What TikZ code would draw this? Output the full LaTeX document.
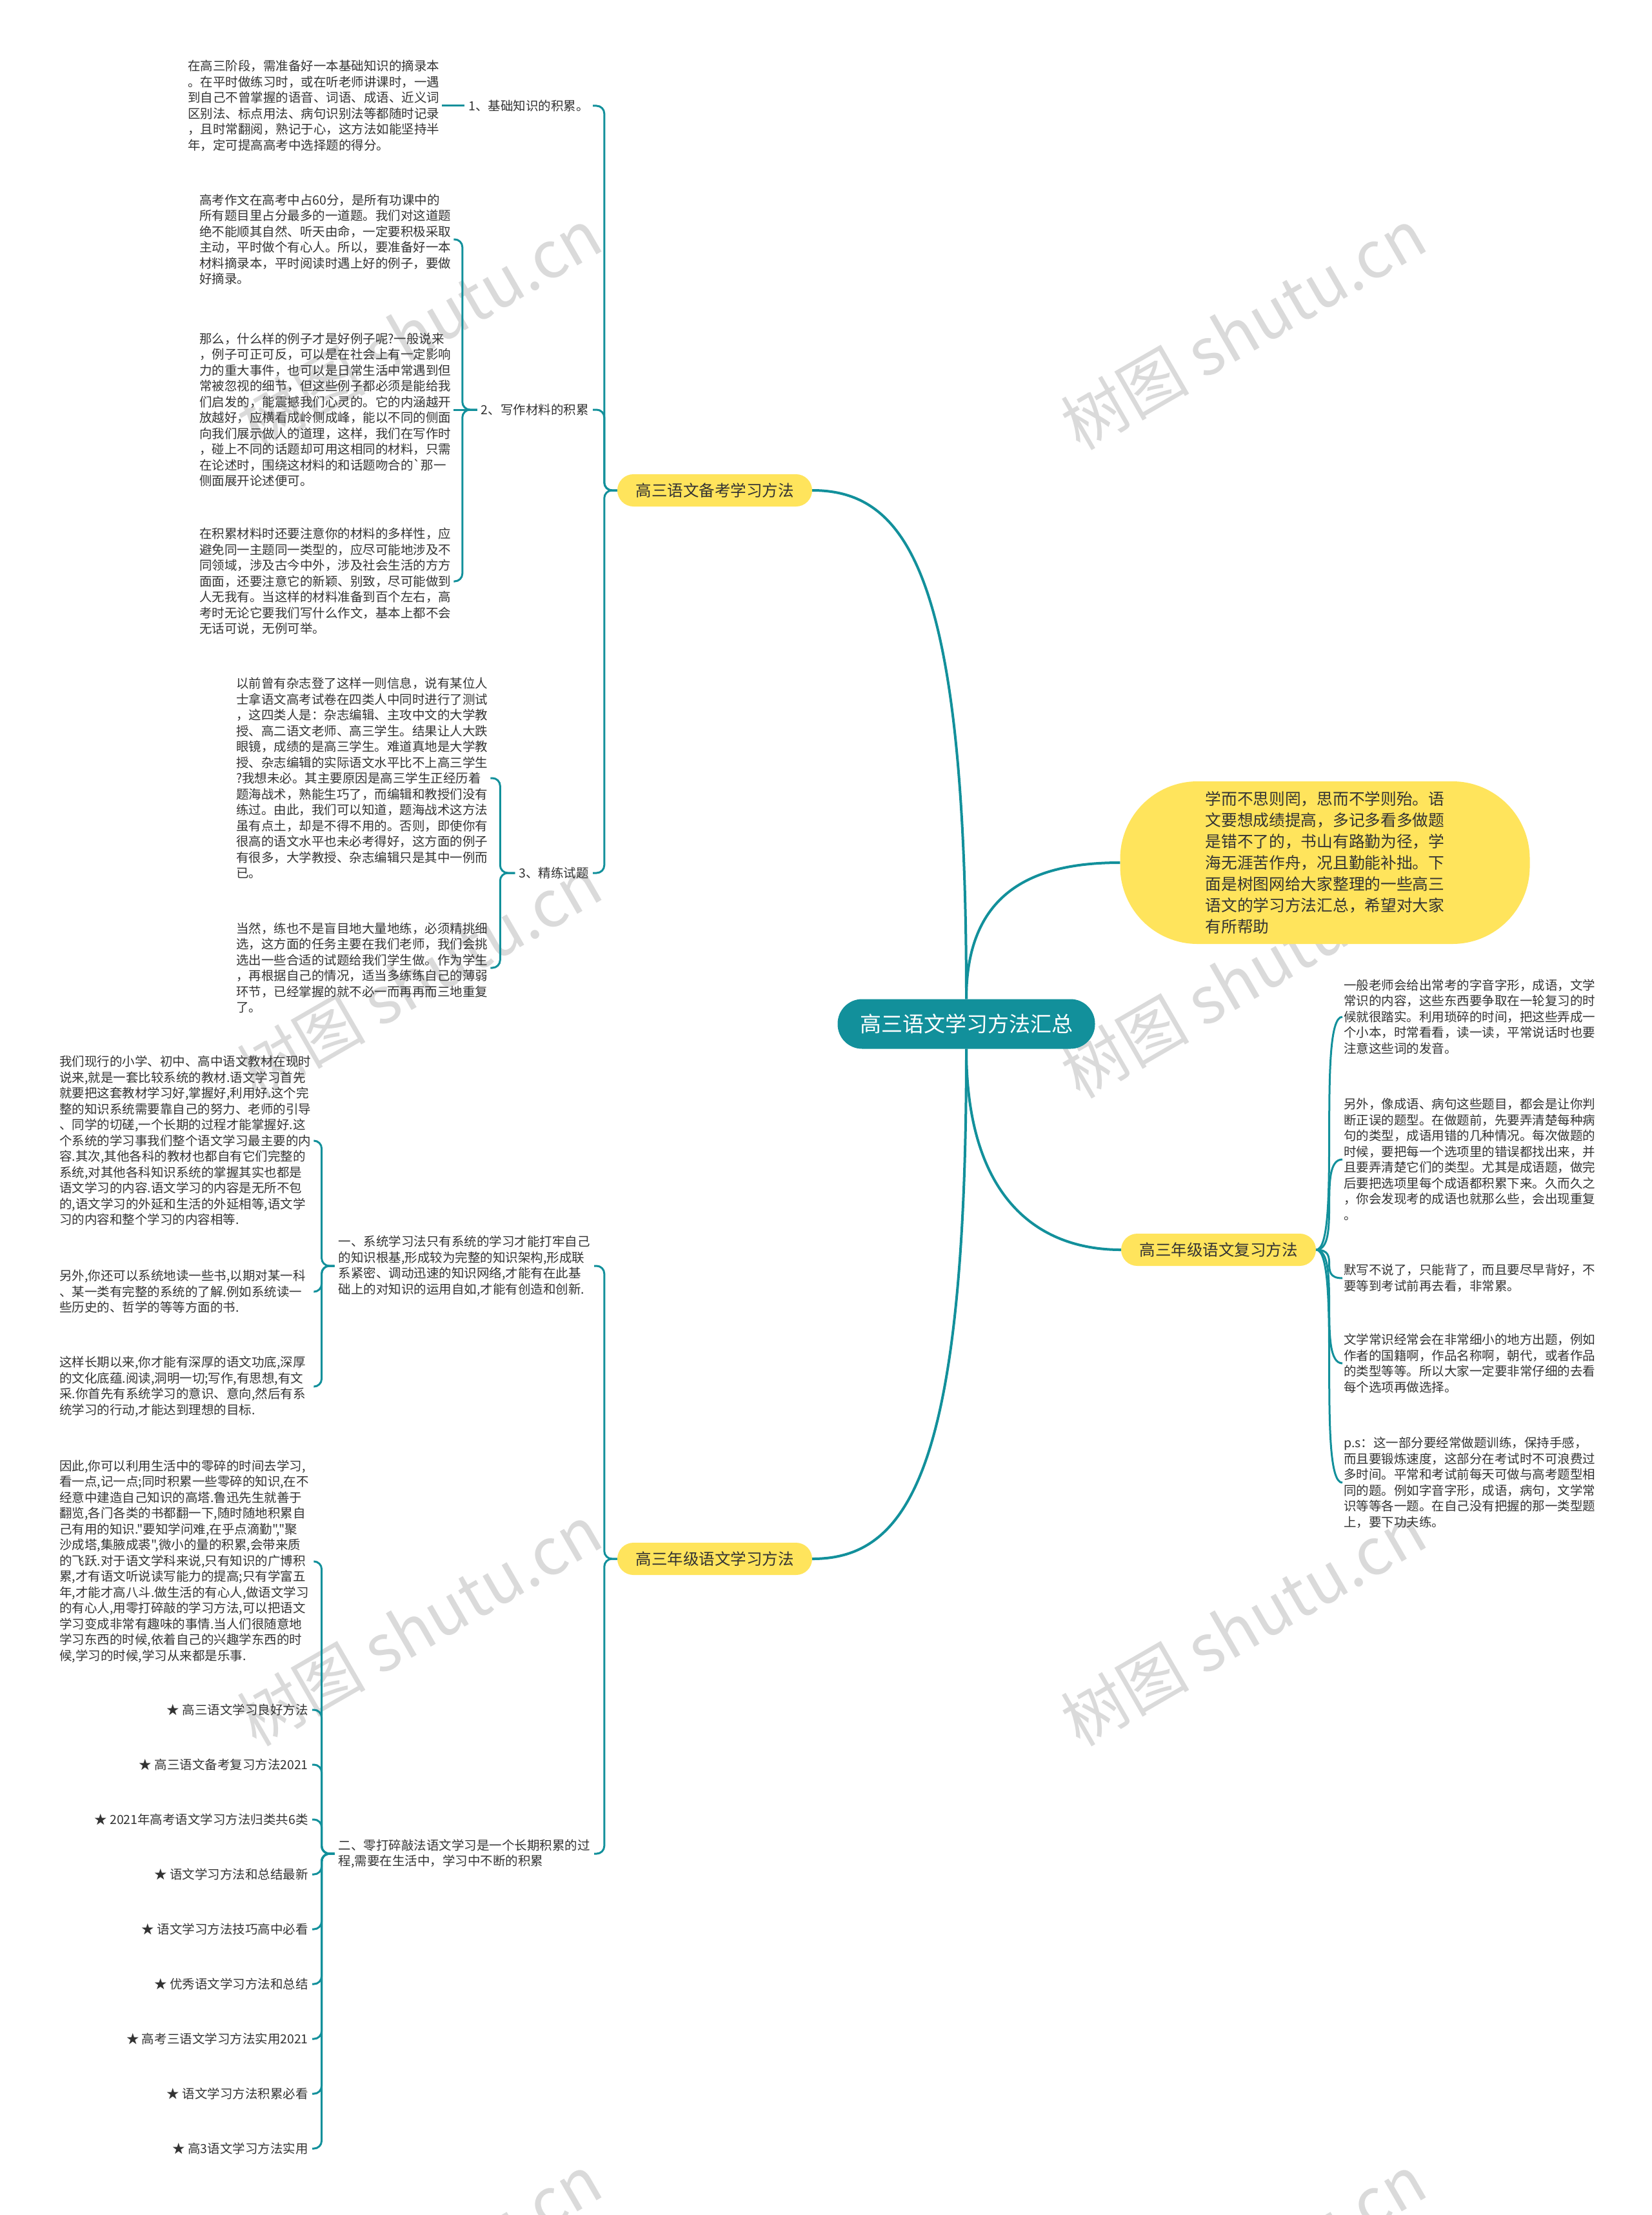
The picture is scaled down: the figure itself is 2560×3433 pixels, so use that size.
\documentclass[tikz,border=0pt]{standalone}
\usepackage{fontspec}
\newfontfamily\cjk{Noto Sans CJK SC}
\definecolor{teal0}{HTML}{12909B}
\definecolor{yel}{HTML}{FFE45C}
\definecolor{ink}{HTML}{333333}
\definecolor{wm}{HTML}{DADADA}

\begin{document}
\begin{tikzpicture}[
  x=1pt, y=-1pt,
  root/.style={fill=teal0, text=white, rounded corners=38pt, minimum width=399pt,
              minimum height=77pt, font=\cjk\fontsize{33}{40}\selectfont},
  topic/.style={fill=yel, text=ink, rounded corners=25pt, minimum width=302pt,
              minimum height=50pt, font=\cjk\fontsize{24.5}{30}\selectfont},
  intro/.style={fill=yel, text=ink, rounded corners=120pt, minimum width=635pt,
              minimum height=252pt, align=left, font=\cjk\fontsize{24.7}{33}\selectfont},
  sub/.style={anchor=east, inner sep=6pt, align=left, text=ink,
              font=\cjk\fontsize{19.5}{24.5}\selectfont},
  note/.style={anchor=west, inner sep=2pt, text width=392pt, align=left, text=ink,
              font=\cjk\fontsize{19.5}{24.5}\selectfont},
  star/.style={anchor=east, inner sep=6pt, text=ink, font=\cjk\fontsize{19.5}{24.5}\selectfont},
  wmark/.style={rotate=30, text=wm, font=\cjk\fontsize{100}{100}\selectfont},
  link/.style={draw=teal0, line width=3pt, rounded corners=12pt},
  main/.style={draw=teal0, line width=4pt},
]
\useasboundingbox (0,0) rectangle (2560,3433);

% === watermarks ===
\foreach \wx in {650,1927}
  \foreach \wy in {510,1515,2519,3526}
    \node[wmark] (wm-\wx-\wy) at (\wx,\wy) {树图 shutu.cn};

% === centre and main topics ===
\node[root] (root) at (1498,1587) {高三语文学习方法汇总};
\node[topic] (prep) at (1108,760) {高三语文备考学习方法};
\node[topic] (study) at (1108,2416) {高三年级语文学习方法};
\node[topic] (review) at (1889,1937) {高三年级语文复习方法};
\node[intro] (intro) at (2054,1337) {学而不思则罔，思而不学则殆。语\\
文要想成绩提高，多记多看多做题\\
是错不了的，书山有路勤为径，学\\
海无涯苦作舟，况且勤能补拙。下\\
面是树图网给大家整理的一些高三\\
语文的学习方法汇总，希望对大家\\
有所帮助};

\draw[main] (root.north) .. controls +(0,-650) and +(150,0) .. (prep.east);
\draw[main] (root.north) .. controls +(0,-170) and +(-130,0) .. (intro.west);
\draw[main] (root.south) .. controls +(0,230) and +(-130,0) .. (review.west);
\draw[main] (root.south) .. controls +(0,650) and +(150,0) .. (study.east);

% === prep branch ===
\node[sub] (basic) at (919,164) {1、基础知识的积累。};
\node[sub] (write) at (919,635) {2、写作材料的积累};
\node[sub] (drill) at (919,1353) {3、精练试题};

\node[note] (basicA) at (289,164) {在高三阶段，需准备好一本基础知识的摘录本\\
。在平时做练习时，或在听老师讲课时，一遇\\
到自己不曾掌握的语音、词语、成语、近义词\\
区别法、标点用法、病句识别法等都随时记录\\
，且时常翻阅，熟记于心，这方法如能坚持半\\
年，定可提高高考中选择题的得分。};

\node[note] (writeA) at (307,371) {高考作文在高考中占60分，是所有功课中的\\
所有题目里占分最多的一道题。我们对这道题\\
绝不能顺其自然、听天由命，一定要积极采取\\
主动，平时做个有心人。所以，要准备好一本\\
材料摘录本，平时阅读时遇上好的例子，要做\\
好摘录。};

\node[note] (writeB) at (307,635) {那么，什么样的例子才是好例子呢?一般说来\\
，例子可正可反，可以是在社会上有一定影响\\
力的重大事件，也可以是日常生活中常遇到但\\
常被忽视的细节，但这些例子都必须是能给我\\
们启发的，能震撼我们心灵的。它的内涵越开\\
放越好，应横看成岭侧成峰，能以不同的侧面\\
向我们展示做人的道理，这样，我们在写作时\\
，碰上不同的话题却可用这相同的材料，只需\\
在论述时，围绕这材料的和话题吻合的\textasciigrave 那一\\
侧面展开论述便可。};

\node[note] (writeC) at (307,901) {在积累材料时还要注意你的材料的多样性，应\\
避免同一主题同一类型的，应尽可能地涉及不\\
同领域，涉及古今中外，涉及社会生活的方方\\
面面，还要注意它的新颖、别致，尽可能做到\\
人无我有。当这样的材料准备到百个左右，高\\
考时无论它要我们写什么作文，基本上都不会\\
无话可说，无例可举。};

\node[note] (drillA) at (364,1206) {以前曾有杂志登了这样一则信息，说有某位人\\
士拿语文高考试卷在四类人中同时进行了测试\\
，这四类人是：杂志编辑、主攻中文的大学教\\
授、高二语文老师、高三学生。结果让人大跌\\
眼镜，成绩的是高三学生。难道真地是大学教\\
授、杂志编辑的实际语文水平比不上高三学生\\
?我想未必。其主要原因是高三学生正经历着\\
题海战术，熟能生巧了，而编辑和教授们没有\\
练过。由此，我们可以知道，题海战术这方法\\
虽有点土，却是不得不用的。否则，即使你有\\
很高的语文水平也未必考得好，这方面的例子\\
有很多，大学教授、杂志编辑只是其中一例而\\
已。};

\node[note] (drillB) at (364,1500) {当然，练也不是盲目地大量地练，必须精挑细\\
选，这方面的任务主要在我们老师，我们会挑\\
选出一些合适的试题给我们学生做。作为学生\\
，再根据自己的情况，适当多练练自己的薄弱\\
环节，已经掌握的就不必一而再再而三地重复\\
了。};

\draw[link] (prep.west) -- ++(-20,0) |- (basic.east);
\draw[link] (prep.west) -- ++(-20,0) |- (write.east);
\draw[link] (prep.west) -- ++(-20,0) |- (drill.east);
\draw[link] (basic.west) -- (basicA.east);
\draw[link] (write.west) -- ++(-23,0) |- (writeA.east);
\draw[link] (write.west) -- (writeB.east);
\draw[link] (write.west) -- ++(-23,0) |- (writeC.east);
\draw[link] (drill.west) -- ++(-23,0) |- (drillA.east);
\draw[link] (drill.west) -- ++(-23,0) |- (drillB.east);

% === study branch ===
\node[sub, text width=390pt] (system) at (921,1962) {一、系统学习法只有系统的学习才能打牢自己\\
的知识根基,形成较为完整的知识架构,形成联\\
系紧密、调动迅速的知识网络,才能有在此基\\
础上的对知识的运用自如,才能有创造和创新.};
\node[sub, text width=390pt] (piece) at (921,2873) {二、零打碎敲法语文学习是一个长期积累的过\\
程,需要在生活中，学习中不断的积累};

\node[note] (sysA) at (90,1768) {我们现行的小学、初中、高中语文教材在现时\\
说来,就是一套比较系统的教材.语文学习首先\\
就要把这套教材学习好,掌握好,利用好.这个完\\
整的知识系统需要靠自己的努力、老师的引导\\
、同学的切磋,一个长期的过程才能掌握好.这\\
个系统的学习事我们整个语文学习最主要的内\\
容.其次,其他各科的教材也都自有它们完整的\\
系统,对其他各科知识系统的掌握其实也都是\\
语文学习的内容.语文学习的内容是无所不包\\
的,语文学习的外延和生活的外延相等,语文学\\
习的内容和整个学习的内容相等.};

\node[note] (sysB) at (90,2002) {另外,你还可以系统地读一些书,以期对某一科\\
、某一类有完整的系统的了解.例如系统读一\\
些历史的、哲学的等等方面的书.};

\node[note] (sysC) at (90,2149) {这样长期以来,你才能有深厚的语文功底,深厚\\
的文化底蕴.阅读,洞明一切;写作,有思想,有文\\
采.你首先有系统学习的意识、意向,然后有系\\
统学习的行动,才能达到理想的目标.};

\node[note] (pieceA) at (90,2420) {因此,你可以利用生活中的零碎的时间去学习,\\
看一点,记一点;同时积累一些零碎的知识,在不\\
经意中建造自己知识的高塔.鲁迅先生就善于\\
翻览,各门各类的书都翻一下,随时随地积累自\\
己有用的知识."要知学问难,在乎点滴勤","聚\\
沙成塔,集腋成裘",微小的量的积累,会带来质\\
的飞跃.对于语文学科来说,只有知识的广博积\\
累,才有语文听说读写能力的提高;只有学富五\\
年,才能才高八斗.做生活的有心人,做语文学习\\
的有心人,用零打碎敲的学习方法,可以把语文\\
学习变成非常有趣味的事情.当人们很随意地\\
学习东西的时候,依着自己的兴趣学东西的时\\
候,学习的时候,学习从来都是乐事.};

\foreach \t [count=\i] in {高三语文学习良好方法, 高三语文备考复习方法2021,
    2021年高考语文学习方法归类共6类, 语文学习方法和总结最新,
    语文学习方法技巧高中必看, 优秀语文学习方法和总结,
    高考三语文学习方法实用2021, 语文学习方法积累必看, 高3语文学习方法实用}
  \node[star] (item\i) at (484,2565+85*\i) {★ \t};

\draw[link] (study.west) -- ++(-20,0) |- (system.east);
\draw[link] (study.west) -- ++(-20,0) |- (piece.east);
\draw[link] (system.west) -- ++(-20,0) |- (sysA.east);
\draw[link] (system.west) -- ++(-20,0) |- (sysB.east);
\draw[link] (system.west) -- ++(-20,0) |- (sysC.east);
\draw[link] (piece.west) -- ++(-20,0) |- (pieceA.east);
\foreach \i in {1,...,9}
  \draw[link] (piece.west) -- ++(-20,0) |- (item\i.east);

% === review branch ===
\node[note] (rev1) at (2081,1576) {一般老师会给出常考的字音字形，成语，文学\\
常识的内容，这些东西要争取在一轮复习的时\\
候就很踏实。利用琐碎的时间，把这些弄成一\\
个小本，时常看看，读一读，平常说话时也要\\
注意这些词的发音。};

\node[note] (rev2) at (2081,1797) {另外，像成语、病句这些题目，都会是让你判\\
断正误的题型。在做题前，先要弄清楚每种病\\
句的类型，成语用错的几种情况。每次做题的\\
时候，要把每一个选项里的错误都找出来，并\\
且要弄清楚它们的类型。尤其是成语题，做完\\
后要把选项里每个成语都积累下来。久而久之\\
，你会发现考的成语也就那么些，会出现重复\\
。};

\node[note] (rev3) at (2081,1981) {默写不说了，只能背了，而且要尽早背好，不\\
要等到考试前再去看，非常累。};

\node[note] (rev4) at (2081,2113) {文学常识经常会在非常细小的地方出题，例如\\
作者的国籍啊，作品名称啊，朝代，或者作品\\
的类型等等。所以大家一定要非常仔细的去看\\
每个选项再做选择。};

\node[note] (rev5) at (2081,2298) {p.s：这一部分要经常做题训练，保持手感，\\
而且要锻炼速度，这部分在考试时不可浪费过\\
多时间。平常和考试前每天可做与高考题型相\\
同的题。例如字音字形，成语，病句，文学常\\
识等等各一题。在自己没有把握的那一类型题\\
上，要下功夫练。};

\foreach \r in {rev1,rev2,rev3,rev4,rev5}
  \draw[link] (review.east) .. controls +(40,0) and +(-40,0) .. (\r.west);

\end{tikzpicture}
\end{document}
